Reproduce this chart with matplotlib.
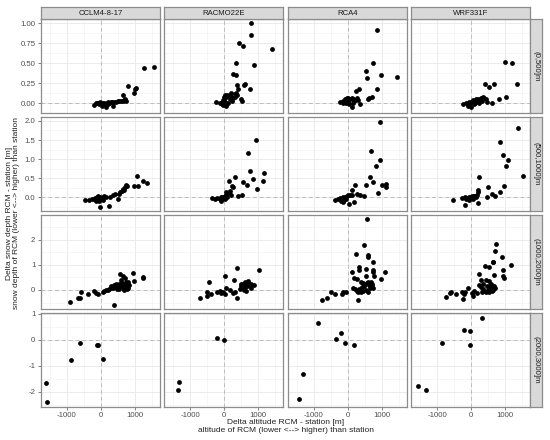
import numpy as np
import matplotlib
matplotlib.use("Agg")
import matplotlib.pyplot as plt
from matplotlib.ticker import MultipleLocator

plt.rcParams["font.family"] = ["Liberation Sans", "DejaVu Sans"]

# models (columns) and altitude classes (rows)
models = ["CCLM4-8-17", "RACMO22E", "RCA4", "WRF331F"]
alt_classes = ["(0,500]m", "(500,1000]m", "(1000,2000]m", "(2000,3000]m"]

# ---- row 1: (0,500]m ----
cclm_r1 = [(1275, 0.44), (1559, 0.446), (794, 0.217), (1039, 0.19), (1000, 0.17), (971, 0.125),
           (637, 0.10), (716, 0.046), (667, 0.037), (735, 0.03), (-216, -0.02), (-147, -0.004),
           (-98, 0.004), (-49, -0.0125), (0, -0.004), (49, -0.0125), (98, 0.004), (147, -0.02),
           (196, 0.0125), (245, -0.004), (294, 0.008), (343, -0.033), (392, 0.017), (441, 0.0125),
           (490, 0.02), (539, 0.02), (588, 0.025), (637, 0.03), (706, 0.037), (147, -0.054),
           (29, -0.033), (98, -0.0125), (216, -0.0125), (-118, 0.0), (60, 0.005), (170, 0.0),
           (320, 0.01), (-20, 0.01)]
racmo_r1 = [(784, 1.0), (784, 0.854), (441, 0.75), (549, 0.72), (1412, 0.675), (353, 0.504),
            (882, 0.483), (255, 0.358), (343, 0.35), (373, 0.22), (608, 0.24), (578, 0.225),
            (755, 0.17), (402, 0.17), (500, 0.05), (520, 0.025), (-255, 0.017), (-137, 0.004),
            (-69, -0.0125), (-29, 0.037), (-10, 0.08), (10, 0.058), (29, 0.017), (59, -0.0125),
            (88, 0.096), (108, 0.0875), (157, 0.1), (186, 0.12), (206, 0.08), (255, 0.058),
            (304, 0.1125), (323, 0.08), (353, 0.13), (382, 0.096), (-29, -0.025), (39, -0.033),
            (108, 0.004), (-108, -0.004), (10, 0.1), (157, 0.046), (235, 0.03)]
rca_r1 = [(862, 0.91), (755, 0.496), (529, 0.404), (970, 0.346), (1441, 0.325), (578, 0.31),
          (872, 0.17), (343, 0.175), (255, 0.146), (706, 0.08), (637, 0.067), (588, 0.054),
          (-225, 0.0125), (-127, 0.03), (-78, 0.046), (-29, 0.058), (20, 0.067), (69, 0.054),
          (118, 0.0625), (167, 0.046), (216, 0.037), (265, 0.067), (314, 0.037), (363, -0.0125),
          (118, -0.046), (49, -0.0125), (-49, -0.004), (-147, 0.004), (20, 0.017), (147, 0.004),
          (186, 0.025), (-78, 0.02)]
wrf_r1 = [(1000, 0.517), (1196, 0.508), (1362, 0.2375), (421, 0.233), (529, 0.2), (666, 0.2375),
          (1019, 0.075), (833, 0.054), (608, 0.004), (-245, -0.0125), (-147, 0.004), (-69, -0.0125),
          (0, 0.017), (49, 0.037), (98, 0.03), (147, 0.046), (196, 0.05), (245, 0.03), (294, 0.0625),
          (343, 0.08), (372, 0.058), (441, 0.046), (461, 0.0125), (-88, -0.0375), (0, -0.054),
          (118, 0.004), (245, -0.004), (323, 0.03), (-49, 0.008), (69, -0.0125)]

# ---- row 2: (500,1000]m ----
cclm_r2 = [(1058, 0.57), (1235, 0.42), (1343, 0.386), (980, 0.29), (1098, 0.29), (735, 0.333),
           (764, 0.29), (706, 0.263), (667, 0.2), (608, 0.175), (568, 0.13), (490, -0.035),
           (421, 0.096), (353, 0.053), (255, 0.0), (-20, -0.254), (225, -0.237), (-470, -0.08),
           (-343, -0.06), (-274, -0.035), (-216, -0.053), (-176, -0.018), (-118, 0.0), (-78, -0.035),
           (-39, 0.009), (0, -0.018), (49, 0.018), (98, 0.026), (147, 0.009), (-147, -0.105),
           (-49, -0.088), (49, -0.06), (-98, 0.035), (640, 0.22), (520, 0.1)]
racmo_r2 = [(941, 1.5), (696, 1.158), (755, 0.684), (1156, 0.649), (304, 0.544), (127, 0.42),
            (539, 0.412), (843, 0.49), (666, 0.316), (1127, 0.44), (951, 0.228), (225, 0.307),
            (255, 0.263), (402, 0.044), (520, 0.07), (-363, -0.026), (-284, -0.035), (-206, -0.018),
            (-137, -0.053), (-88, 0.0), (-39, 0.018), (10, 0.035), (59, 0.07), (108, 0.105),
            (157, 0.158), (206, 0.07), (-108, -0.088), (10, -0.035), (88, 0.0), (-59, -0.044),
            (39, 0.14)]
rca_r2 = [(941, 1.98), (696, 1.21), (951, 0.974), (843, 0.816), (657, 0.544), (755, 0.395),
          (529, 0.316), (1019, 0.316), (1137, 0.35), (1137, 0.263), (882, 0.123), (225, 0.316),
          (118, 0.193), (284, 0.096), (363, 0.07), (490, 0.044), (176, -0.114), (39, -0.175),
          (-372, -0.07), (-274, -0.035), (-225, -0.018), (-176, -0.06), (-127, 0.0), (-78, 0.018),
          (-29, 0.035), (20, 0.053), (69, 0.07), (118, 0.053), (-206, -0.088), (-98, -0.07),
          (-49, -0.035), (-147, -0.123)]
wrf_r2 = [(1392, 1.816), (862, 1.44), (951, 1.096), (1098, 0.974), (1019, 0.816), (1519, 0.57),
          (245, 0.544), (500, 0.263), (980, 0.298), (843, 0.13), (617, 0.088), (706, 0.044),
          (480, 0.018), (216, -0.14), (-167, -0.193), (-529, -0.079), (-265, -0.018), (-196, 0.0),
          (-127, -0.018), (-69, 0.009), (-20, 0.018), (29, 0.026), (78, 0.035), (127, 0.044),
          (176, 0.07), (196, 0.14), (206, 0.2), (-49, -0.06), (49, -0.035), (-147, -0.035),
          (147, 0.0)]

# ---- row 3: (1000,2000]m ----
cclm_r3 = [(-921, -0.49), (-686, -0.307), (-627, -0.307), (-578, -0.093), (-372, -0.147),
           (-196, -0.04), (-137, -0.12), (-78, -0.173), (49, -0.067), (98, -0.027), (147, -0.013),
           (196, 0.013), (245, 0.04), (294, 0.067), (343, 0.093), (392, 0.12), (441, 0.147),
           (490, 0.173), (382, -0.6), (559, 0.627), (637, 0.573), (706, 0.467), (735, 0.333),
           (784, 0.307), (941, 0.68), (980, 0.373), (1235, 0.507), (1235, 0.48), (294, 0.173),
           (372, 0.2), (441, 0.227), (490, 0.093), (539, 0.04), (588, 0.133), (637, 0.067),
           (666, 0.2), (706, 0.227), (735, 0.133), (764, 0.04), (804, 0.093), (833, 0.2),
           (539, 0.227), (608, 0.28), (470, 0.04), (666, -0.013), (764, 0.253), (588, 0.4),
           (804, 0.227)]
racmo_r3 = [(-725, -0.307), (-519, -0.093), (-510, -0.227), (-392, -0.147), (-461, 0.32),
            (-206, -0.067), (-137, -0.04), (-88, -0.12), (-39, -0.067), (10, -0.147), (10, 0.547),
            (59, 0.093), (157, 0.013), (255, -0.12), (323, -0.093), (382, -0.333), (284, 0.387),
            (372, 0.88), (1009, 0.787), (872, 0.2), (451, 0.04), (500, 0.173), (549, 0.227),
            (598, 0.307), (647, 0.267), (696, 0.36), (745, 0.173), (774, 0.093), (520, 0.067),
            (578, -0.013), (617, 0.12), (676, 0.147), (715, 0.227), (647, -0.04), (549, 0.12),
            (794, 0.227), (480, 0.227)]
rca_r3 = [(568, 2.81), (480, 1.8), (235, 1.43), (608, 1.4), (588, 1.307), (745, 1.107), (323, 0.893),
          (333, 0.773), (539, 0.827), (755, 0.787), (735, 0.707), (1107, 0.693), (118, 0.707),
          (774, 0.547), (196, 0.493), (265, 0.427), (539, 0.56), (980, 0.44), (382, 0.333),
          (461, 0.28), (510, 0.227), (559, 0.267), (608, 0.307), (637, 0.2), (676, 0.333),
          (706, 0.227), (480, 0.173), (421, 0.12), (657, 0.093), (715, 0.147), (167, 0.093),
          (216, 0.04), (265, -0.04), (314, -0.093), (343, 0.04), (382, -0.067), (461, -0.04),
          (304, -0.387), (-127, -0.093), (-49, -0.067), (-167, -0.147), (-382, -0.173),
          (-500, -0.093), (-598, -0.307), (-764, -0.413), (755, 0.067), (608, -0.093), (539, 0.0)]
wrf_r3 = [(745, 1.84), (706, 1.53), (911, 1.32), (647, 1.093), (657, 1.12), (1176, 1.0), (412, 0.933),
          (519, 0.907), (951, 0.787), (245, 0.64), (676, 0.6), (931, 0.573), (970, 0.493),
          (441, 0.387), (304, 0.4), (519, 0.36), (578, 0.227), (245, 0.2), (294, 0.133), (343, 0.04),
          (392, -0.04), (441, -0.067), (490, 0.0), (539, 0.04), (588, 0.093), (637, 0.0),
          (696, 0.067), (363, 0.227), (461, 0.173), (519, -0.093), (617, -0.04), (323, -0.067),
          (676, 0.173), (539, 0.173), (-98, 0.067), (-196, -0.093), (-265, -0.067), (-225, -0.173),
          (29, -0.133), (59, -0.253), (167, -0.12), (-235, -0.373), (-441, -0.147), (-588, -0.067),
          (-637, -0.12), (-735, -0.28), (98, -0.04)]

# ---- row 4: (2000,3000]m ----
cclm_r4 = [(-1627, -1.67), (-1597, -2.39), (-872, -0.785), (-627, -0.114), (-118, -0.19),
           (-88, -0.215), (69, -0.734)]
racmo_r4 = [(-1323, -1.62), (-1362, -1.92), (-206, 0.076), (0, -0.025)]
rca_r4 = [(-862, 0.633), (-206, 0.253), (-343, 0.013), (-69, -0.139), (196, -0.215),
          (-1323, -1.30), (-1421, -2.28)]
wrf_r4 = [(333, 0.848), (-225, 0.367), (-39, 0.316), (-853, -0.139), (-39, -0.2),
          (-1568, -1.77), (-1343, -1.92)]

panels = [[cclm_r1, racmo_r1, rca_r1, wrf_r1],
          [cclm_r2, racmo_r2, rca_r2, wrf_r2],
          [cclm_r3, racmo_r3, rca_r3, wrf_r3],
          [cclm_r4, racmo_r4, rca_r4, wrf_r4]]

# per row y-limits, tick step and tick label format
row_ylim = [(-0.12, 1.054), (-0.35, 2.1), (-0.75, 2.97), (-2.58, 1.01)]
row_major = [0.25, 0.5, 1, 1]
row_fmt = ["{:.2f}", "{:.1f}", "{:.0f}", "{:.0f}"]
xlim = (-1765, 1735)

W, H = 550, 440
fig = plt.figure(figsize=(5.5, 4.4), dpi=100)

left, top = 41, 19
pw, ph, gap = 118.9, 93.6, 4.5
strip = 12
border = "#8c8c8c"
grid_c = "#EBEBEB"
tick_c = "#4D4D4D"


def fig_rect(x, y, w, h):
    # pixel box (from top-left) to figure fraction
    return [x / W, 1 - (y + h) / H, w / W, h / H]


def make_strip(rect, label, rot):
    sax = fig.add_axes(rect)
    sax.set_facecolor("#D9D9D9")
    sax.set_xticks([])
    sax.set_yticks([])
    for s in sax.spines.values():
        s.set_color(border)
        s.set_linewidth(0.9)
    sax.text(0.5, 0.5, label, ha="center", va="center", fontsize=5.6,
             color="#1A1A1A", rotation=rot, transform=sax.transAxes)


for r in range(4):
    for c in range(4):
        x0 = left + c * (pw + gap)
        y0 = top + r * (ph + gap)
        ax = fig.add_axes(fig_rect(x0, y0, pw, ph))
        ax.set_xlim(*xlim)
        ax.set_ylim(*row_ylim[r])
        ax.xaxis.set_major_locator(MultipleLocator(1000))
        ax.xaxis.set_minor_locator(MultipleLocator(500))
        ax.yaxis.set_major_locator(MultipleLocator(row_major[r]))
        ax.yaxis.set_minor_locator(MultipleLocator(row_major[r] / 2))
        ax.grid(which="major", color=grid_c, lw=0.7)
        ax.grid(which="minor", color="#F2F2F2", lw=0.45)
        ax.set_axisbelow(True)
        for s in ax.spines.values():
            s.set_color(border)
            s.set_linewidth(0.9)
        ax.axvline(0, color="#BDBDBD", lw=0.7, ls=(0, (4, 3)), zorder=1)
        ax.axhline(0, color="#BDBDBD", lw=0.7, ls=(0, (4, 3)), zorder=1)

        pts = np.array(panels[r][c])
        ax.scatter(pts[:, 0], pts[:, 1], s=12, color="black", lw=0, zorder=3)

        ax.tick_params(which="both", labelsize=5.6, labelcolor=tick_c, color="#4D4D4D",
                       length=2.5, width=0.5, pad=1.5)
        ax.tick_params(which="minor", length=0)
        if c == 0:
            ticks = [t for t in ax.get_yticks() if row_ylim[r][0] <= t <= row_ylim[r][1]]
            ax.set_yticks(ticks)
            ax.set_yticklabels([row_fmt[r].format(v) for v in ticks])
            ax.set_ylim(*row_ylim[r])
        else:
            ax.tick_params(axis="y", which="both", length=0, labelleft=False)
        if r == 3:
            ax.set_xticks([-1000, 0, 1000])
            ax.set_xticklabels(["-1000", "0", "1000"])
        else:
            ax.tick_params(axis="x", which="both", length=0, labelbottom=False)

        if r == 0:
            make_strip(fig_rect(x0, y0 - strip, pw, strip), models[c], 0)
        if c == 3:
            make_strip(fig_rect(x0 + pw, y0, strip, ph), alt_classes[r], -90)

# axis titles
panel_w = 4 * pw + 3 * gap
panel_h = 4 * ph + 3 * gap
fig.text((left + panel_w / 2) / W, 1 - 426.5 / H,
         "Delta altitude RCM - station [m]\naltitude of RCM (lower <--> higher) than station",
         ha="center", va="center", fontsize=6.0, color="#222222", linespacing=1.15)
fig.text(13 / W, 1 - (top + panel_h / 2) / H,
         "Delta snow depth RCM - station [m]\nsnow depth of RCM (lower <--> higher) than station",
         ha="center", va="center", fontsize=6.0, color="#222222", rotation=90, linespacing=1.15)

fig.savefig("out.png", dpi=100)
